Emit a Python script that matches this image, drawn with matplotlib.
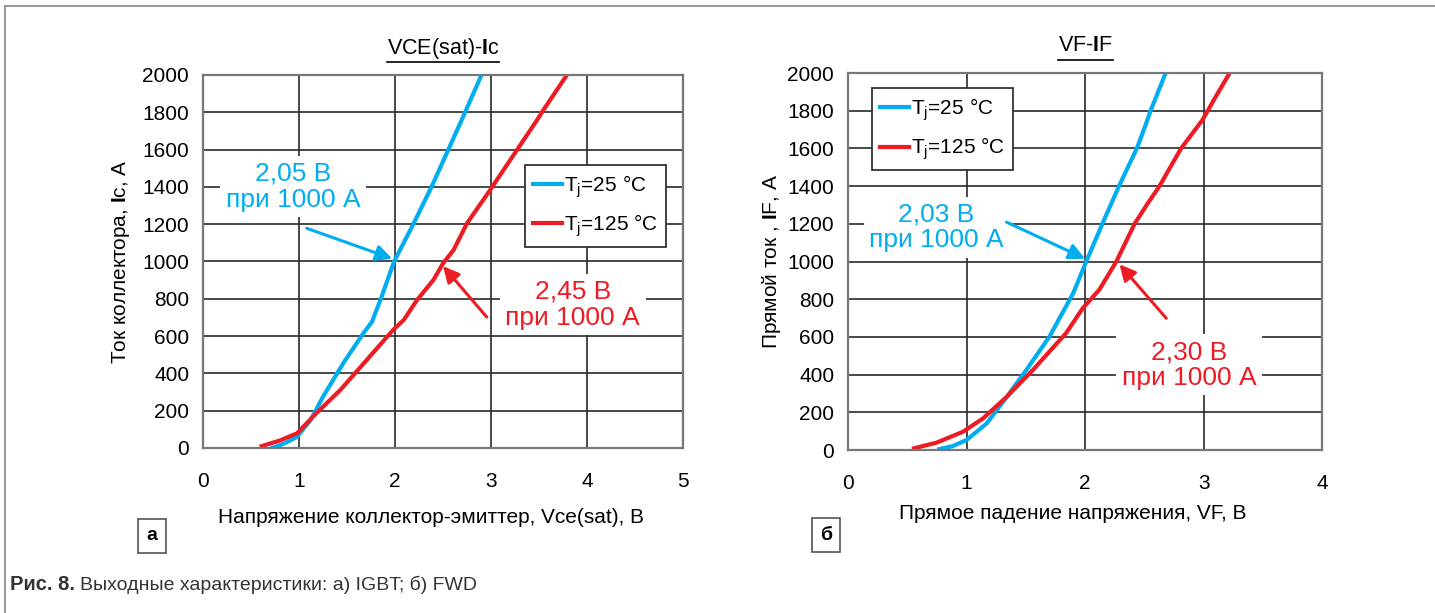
import matplotlib
matplotlib.use('Agg')
import matplotlib.pyplot as plt
from matplotlib.lines import Line2D

plt.rcParams['font.family'] = ['Liberation Sans', 'DejaVu Sans']
plt.rcParams['mathtext.fontset'] = 'custom'
plt.rcParams['mathtext.rm'] = 'Liberation Sans'
plt.rcParams['mathtext.bf'] = 'Liberation Sans:bold'

# данные
igbt_v25 = [0.72, 0.85, 0.98, 1.12, 1.25, 1.46, 1.67, 1.76, 1.86, 1.99, 2.19, 2.38, 2.555, 2.73, 2.90]
igbt_i25 = [0, 25, 60, 150, 275, 454, 615, 677, 811, 1000, 1200, 1400, 1600, 1800, 2000]
igbt_v125 = [0.61, 0.80, 0.98, 1.18, 1.43, 1.705, 1.98, 2.09, 2.23, 2.40, 2.50, 2.61, 2.75, 2.99, 3.27, 3.48, 3.545, 3.79]
igbt_i125 = [10, 40, 79, 186, 311, 472, 633, 686, 794, 901, 990, 1062, 1205, 1383, 1598, 1759, 1812, 2000]

fwd_v25 = [0.77, 0.88, 1.0, 1.17, 1.34, 1.505, 1.70, 1.90, 2.01, 2.146, 2.286, 2.437, 2.517, 2.553, 2.68]
fwd_i25 = [5, 20, 53, 141, 283, 425, 602, 832, 1000, 1200, 1400, 1600, 1735, 1800, 2000]
fwd_v125 = [0.556, 0.747, 0.97, 1.14, 1.34, 1.56, 1.84, 1.98, 2.12, 2.264, 2.418, 2.52, 2.628, 2.81, 2.99, 3.105, 3.22]
fwd_i125 = [9, 39, 97, 168, 283, 425, 620, 752, 850, 1000, 1200, 1300, 1400, 1600, 1750, 1877, 2000]

labels = ['T$_{\\mathrm{j}}$=25 °C', 'T$_{\\mathrm{j}}$=125 °C']
yticks = list(range(0, 2001, 200))

blue = '#00aeef'
red = '#ed1c24'

fig = plt.figure(figsize=(14.35, 6.13), dpi=100)
ax1 = fig.add_axes([0.1415, 0.2692, 0.3345, 0.6085])
ax2 = fig.add_axes([0.5910, 0.2659, 0.3303, 0.6150])


def style(ax, xmax):
    ax.set_xlim(0, xmax)
    ax.set_ylim(0, 2000)
    ax.set_xticks(range(0, xmax + 1))
    ax.set_yticks(yticks)
    ax.grid(True, color='#2a2a2a', lw=1.2)
    ax.set_axisbelow(True)
    ax.tick_params(length=0, labelsize=15)
    ax.tick_params(axis='x', pad=17)
    ax.tick_params(axis='y', pad=10)
    for s in ax.spines.values():
        s.set_color('#777777')
        s.set_linewidth(1.6)


style(ax1, 5)
style(ax2, 4)

ax1.plot(igbt_v25, igbt_i25, color=blue, lw=3, label=labels[0])
ax1.plot(igbt_v125, igbt_i125, color=red, lw=3, label=labels[1])
ax2.plot(fwd_v25, fwd_i25, color=blue, lw=3, label=labels[0])
ax2.plot(fwd_v125, fwd_i125, color=red, lw=3, label=labels[1])

for ax, anchor in [(ax1, (0.671, 0.759)), (ax2, (0.05, 0.959))]:
    leg = ax.legend(loc='upper left', bbox_to_anchor=anchor, borderaxespad=0,
                    fontsize=15, handlelength=1.4, handletextpad=0.1,
                    labelspacing=0.6, borderpad=0.38, fancybox=False,
                    framealpha=1, edgecolor='#333333')
    leg.get_frame().set_linewidth(1.3)

ax1.set_title('VCE(sat)-$\\mathbf{I}$c', fontsize=15.5, pad=15)
ax2.set_title('VF-$\\mathbf{I}$F', fontsize=15.5, pad=16)
ax1.set_ylabel('Ток коллектора, $\\mathbf{I}$c, А', fontsize=15)
ax2.set_ylabel('Прямой ток , $\\mathbf{I}$F, А', fontsize=15)
ax1.yaxis.set_label_coords(-0.147, 0.5)
ax2.yaxis.set_label_coords(-0.138, 0.5)
ax1.set_xlabel('Напряжение коллектор-эмиттер, Vce(sat), В', fontsize=15)
ax2.set_xlabel('Прямое падение напряжения, VF, В', fontsize=15)
ax1.xaxis.set_label_coords(0.475, -0.162)
ax2.xaxis.set_label_coords(0.475, -0.143)

box = dict(facecolor='white', edgecolor='none', pad=4)


def note(ax, txt, xy, xytext, arrow_from, color):
    ax.text(xytext[0], xytext[1], txt, color=color, fontsize=19, ha='center',
            va='center', linespacing=1.1, bbox=box, zorder=4)
    ax.annotate('', xy=xy, xytext=arrow_from, zorder=5,
                arrowprops=dict(arrowstyle='-|>', color=color, lw=2.2,
                                mutation_scale=24, shrinkA=0, shrinkB=0))


note(ax1, '2,05 В\nпри 1000 А', (1.97, 1015), (0.94, 1400), (1.08, 1178), blue)
note(ax1, '2,45 В\nпри 1000 А', (2.50, 975), (3.85, 767), (2.955, 702), red)
note(ax2, '2,03 В\nпри 1000 А', (2.0, 1015), (0.747, 1182), (1.337, 1209), blue)
note(ax2, '2,30 В\nпри 1000 А', (2.29, 985), (2.88, 451), (2.685, 699), red)

# буквы панелей
for x, y, t in [(152 / 1435, 1 - 536 / 613, 'а'), (826 / 1435, 1 - 535 / 613, 'б')]:
    fig.text(x, y, t, fontsize=14, fontweight='bold', ha='center', va='center',
             bbox=dict(facecolor='white', edgecolor='#555555', pad=6, lw=1.2))

# подпись
fig.text(10 / 1435, 1 - 585 / 613, 'Рис. 8.', fontsize=14.5, fontweight='bold',
         va='center', color='#333333')
fig.text(80 / 1435, 1 - 585 / 613, 'Выходные характеристики: а) IGBT; б) FWD', fontsize=14,
         va='center', color='#333333')

# рамка
fig.add_artist(Line2D([5 / 1435, 1], [1 - 6 / 613, 1 - 6 / 613], color='#888888', lw=1.2))
fig.add_artist(Line2D([5 / 1435, 5 / 1435], [0, 1 - 6 / 613], color='#888888', lw=1.2))

# подчёркивание заголовков (высота линии как на оригинале)
fig.canvas.draw()
r = fig.canvas.get_renderer()
for ax, ypx in [(ax1, 62), (ax2, 60)]:
    bb = ax.title.get_window_extent(r)
    yy = 1 - ypx / 613
    fig.add_artist(Line2D([bb.x0 / fig.bbox.width, bb.x1 / fig.bbox.width], [yy, yy],
                          color='black', lw=1.2))

fig.savefig('out.png', dpi=100)
